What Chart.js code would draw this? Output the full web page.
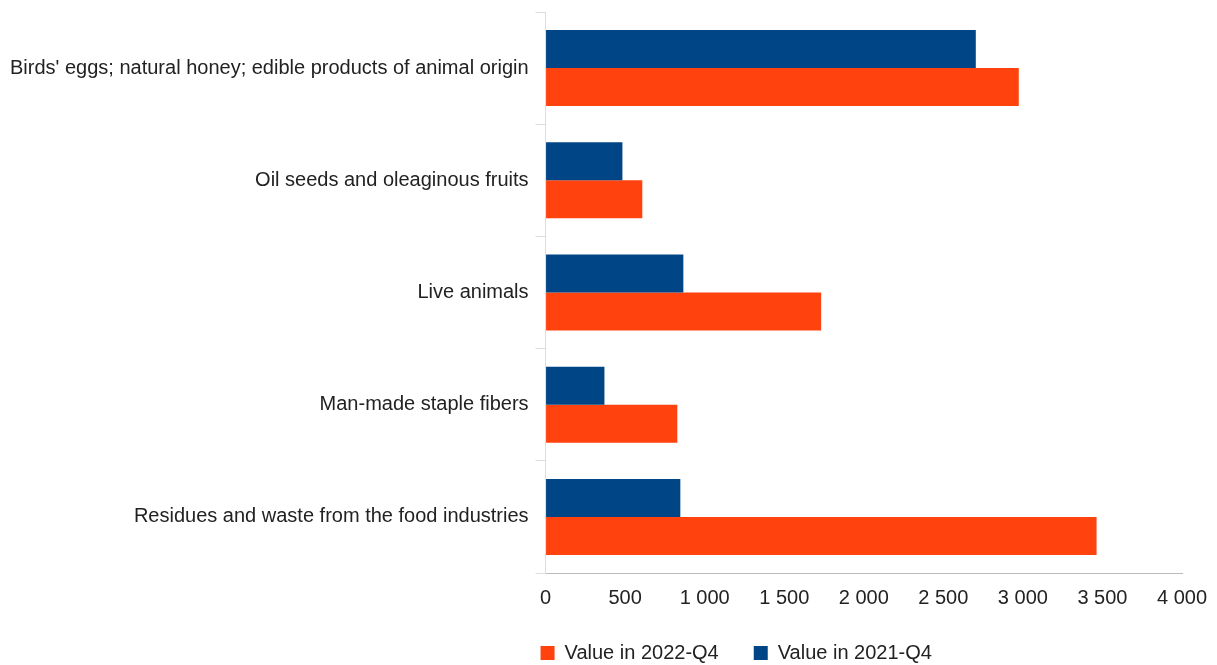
<!DOCTYPE html>
<html>
<head>
<meta charset="utf-8">
<script src="https://cdn.jsdelivr.net/npm/chart.js@4/dist/chart.umd.min.js"></script>
<style>
html,body{margin:0;padding:0;background:#fff;}
#wrap{width:1217px;height:665px;position:relative;}
</style>
</head>
<body>
<div id="wrap"><canvas id="c"></canvas></div>
<script>
const categories = [
  "Birds' eggs; natural honey; edible products of animal origin",
  "Oil seeds and oleaginous fruits",
  "Live animals",
  "Man-made staple fibers",
  "Residues and waste from the food industries"
];
const values2021 = [2704, 483, 866, 370, 847];
const values2022 = [2974, 608, 1732, 828, 3463];
const seriesLabels = ["Value in 2021-Q4", "Value in 2022-Q4"];
const xTicks = [0, 500, 1000, 1500, 2000, 2500, 3000, 3500, 4000];

const FONT = "'Liberation Sans', Arial, sans-serif";
Chart.defaults.font.family = FONT;
Chart.defaults.color = '#222';

function fmt(v){
  return String(v).replace(/\B(?=(\d{3})+(?!\d))/g, ' ');
}

const legendShift = {
  id: 'legendShift',
  afterInit(chart){
    const lg = chart.legend;
    if (lg && !lg._patched) {
      const f = lg.fit.bind(lg);
      lg.fit = function(){ f(); this.height = Math.max(0, this.height - 16); };
      lg._patched = true;
    }
  },
  afterLayout(chart){
    const lg = chart.legend;
    if (lg) { lg.left = chart.chartArea.left - 40; lg.top -= 15; }
  }
};

new Chart(document.getElementById('c'), {
  type: 'bar',
  data: {
    labels: categories,
    datasets: [
      { label: seriesLabels[0], data: values2021, backgroundColor: '#004586', borderWidth: 0 },
      { label: seriesLabels[1], data: values2022, backgroundColor: '#ff420e', borderWidth: 0 }
    ]
  },
  options: {
    indexAxis: 'y',
    responsive: true,
    maintainAspectRatio: false,
    animation: false,
    datasets: { bar: { categoryPercentage: 0.677, barPercentage: 1.0 } },
    layout: { padding: { top: 12, right: 35, left: 3, bottom: -7 } },
    scales: {
      x: {
        min: 0, max: 4000,
        afterFit(axis){ axis.paddingRight = 0; axis.paddingLeft = 0; },
        afterBuildTicks(axis){ axis.ticks = xTicks.map(v => ({ value: v })); },
        ticks: { callback: v => fmt(v), font: { size: 20 }, color: '#222', padding: 13, maxRotation: 0 },
        grid: { display: true, drawOnChartArea: false, drawTicks: false },
        border: { display: true, color: '#bbb', width: 1 }
      },
      y: {
        afterFit(axis){ axis.paddingTop = 0; axis.paddingBottom = 0; },
        ticks: { font: { size: 20 }, color: '#222', padding: 7 },
        grid: { display: true, drawOnChartArea: false, drawTicks: true, tickLength: 10, color: '#ddd', offset: true },
        border: { display: true, color: '#ddd', width: 1 }
      }
    },
    plugins: {
      legend: {
        position: 'bottom',
        align: 'start',
        reverse: true,
        labels: { boxWidth: 14, boxHeight: 14, padding: 35, font: { size: 20 }, color: '#222' }
      },
      tooltip: { enabled: false }
    }
  },
  plugins: [legendShift]
});
</script>
</body>
</html>
